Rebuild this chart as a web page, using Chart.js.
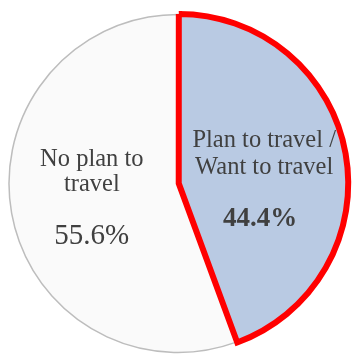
<!DOCTYPE html>
<html>
<head>
<meta charset="utf-8">
<script src="https://cdn.jsdelivr.net/npm/chart.js@4.4.1/dist/chart.umd.min.js"></script>
<style>
  html, body { margin: 0; padding: 0; background: #fff; }
  #wrap { width: 356px; height: 354px; }
</style>
</head>
<body>
<div id="wrap"><canvas id="pie" width="356" height="354"></canvas></div>
<script>
// travel intention shares (%)
const categorias = ['No plan to\ntravel', 'Plan to travel /\nWant to travel'];
const valores = [55.6, 44.4];
const destaque = [false, true];

const total = valores.reduce((a, b) => a + b, 0);
// start the grey slice where the highlighted one ends, so the highlighted one is drawn last
const rotacao = valores[1] / total * 360;

// per slice label placement around the middle of the arc
const posRotulos = [
  { dx: -3, linhas: [-32, -7], valor: { dx: 0, dy: 46 } },
  { dx: 3, linhas: [-22, 5], valor: { dx: -4, dy: 57 } }
];

const rotulosPlugin = {
  id: 'rotulos',
  afterDatasetsDraw(chart) {
    const ctx = chart.ctx;
    const meta = chart.getDatasetMeta(0);
    meta.data.forEach((arc, i) => {
      const p = arc.getProps(['x', 'y', 'startAngle', 'endAngle', 'outerRadius']);
      const meio = (p.startAngle + p.endAngle) / 2;
      const ax = p.x + Math.cos(meio) * p.outerRadius * 0.5;
      const ay = p.y + Math.sin(meio) * p.outerRadius * 0.5;
      const cfg = posRotulos[i];
      ctx.save();
      ctx.fillStyle = '#404040';
      ctx.textAlign = 'center';
      ctx.textBaseline = 'alphabetic';
      ctx.font = '24.5px "Liberation Serif"';
      categorias[i].split('\n').forEach((l, j) => ctx.fillText(l, ax + cfg.dx, ay + cfg.linhas[j]));
      ctx.font = (destaque[i] ? 'bold 27px' : '29px') + ' "Liberation Serif"';
      ctx.fillText(valores[i].toFixed(1) + '%', ax + cfg.dx + cfg.valor.dx, ay + cfg.valor.dy);
      ctx.restore();
    });
  }
};

new Chart(document.getElementById('pie'), {
  type: 'pie',
  data: {
    labels: categorias,
    datasets: [{
      data: valores,
      backgroundColor: ['#FAFAFA', '#B9CAE3'],
      borderColor: ['#BDBDBD', '#FF0000'],
      borderWidth: [1.5, 6],
      borderJoinStyle: 'miter',
      offset: [0, 3],
      radius: 169,
      clip: false
    }]
  },
  options: {
    responsive: false,
    animation: false,
    events: [],
    rotation: rotacao,
    layout: { padding: { top: 13, bottom: 0, left: 0, right: 0 } },
    plugins: { legend: { display: false }, tooltip: { enabled: false } }
  },
  plugins: [rotulosPlugin]
});
</script>
</body>
</html>
